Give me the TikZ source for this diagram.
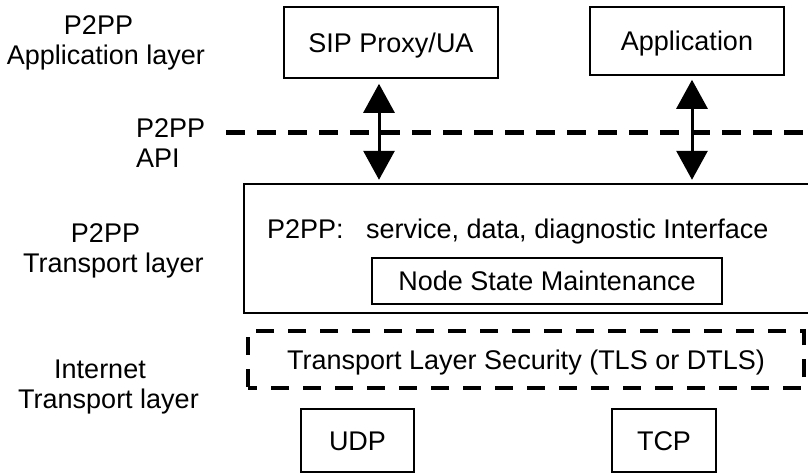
\documentclass[tikz,border=0pt]{standalone}
\usepackage{fontspec}
\setmainfont{Liberation Sans}
\usetikzlibrary{arrows.meta}
\begin{document}
\begin{tikzpicture}[x=1pt,y=-1pt,
  lbl/.style={font=\fontsize{27}{30}\selectfont, inner sep=0pt, align=center},
  box/.style={draw, line width=1.6pt, inner sep=0pt, text height=19.5pt, text depth=0pt, font=\fontsize{27}{30}\selectfont},
  txt/.style={inner sep=0pt, font=\fontsize{27}{30}\selectfont},
  biarrow/.style={line width=3pt, {Triangle[length=29pt,width=31pt]}-{Triangle[length=29pt,width=31pt]}},
  dashline/.style={line width=5pt, dash pattern=on 19pt off 12pt},
  dashbox/.style={draw, line width=4pt, dash pattern=on 18pt off 14pt, dash phase=9pt, inner sep=0pt, text height=19.5pt, text depth=0pt, font=\fontsize{27}{30}\selectfont},
]
\useasboundingbox[fill=white] (0,0) rectangle (808,473);

% left layer labels
\node[lbl, anchor=north] (lapp) at (106,15.5) {P2PP\hspace*{15pt}\\Application layer};
\node[lbl, align=left, anchor=north west] (lapi) at (136,118.5) {P2PP\\API};
\node[lbl, anchor=north] (ltp) at (113.5,223.5) {P2PP\hspace*{16pt}\\Transport layer};
\node[lbl, anchor=north] (lin) at (108.5,359.5) {Internet\hspace*{17pt}\\Transport layer};

% application layer boxes
\node[box, minimum width=214pt, minimum height=71pt] (sip) at (391,42.5) {SIP Proxy/UA};
\node[box, minimum width=194pt, minimum height=68pt] (app) at (687,41) {Application};

% API dashed line
\coordinate (apiL) at (226,133);
\coordinate (apiR) at (808,133);
\draw[dashline] (apiL) -- (apiR);

% P2PP transport box (open at the right edge)
\node[minimum width=566pt, minimum height=129pt, inner sep=0pt] (tp) at (527,248.5) {};
\draw[line width=2pt] (tp.north east) -- (tp.north west) -- (tp.south west) -- (tp.south east);
\node[txt, anchor=base west] (p2pp) at (267,238) {P2PP:};
\node[txt, anchor=base west] (svc) at (366,238) {service, data, diagnostic Interface};
\node[box, minimum width=350pt, minimum height=46pt] (nsm) at (547,281) {Node State Maintenance};

% arrows
\coordinate (a1) at ([xshift=-12pt]sip.south);
\coordinate (a2) at ([xshift=5pt]app.south);
\draw[biarrow, shorten <=5pt, shorten >=4pt] (a1) -- (a1 |- tp.north);
\draw[biarrow, shorten <=4pt, shorten >=4pt] (a2) -- (a2 |- tp.north);

% internet transport layer
\node[dashbox, minimum width=556pt, minimum height=57pt] (tls) at (526,359.5) {Transport Layer Security (TLS or DTLS)};
\node[box, minimum width=113pt, minimum height=63pt] (udp) at (357.5,440.5) {UDP};
\node[box, minimum width=104pt, minimum height=63pt] (tcp) at (664,440.5) {TCP};
\end{tikzpicture}
\end{document}
